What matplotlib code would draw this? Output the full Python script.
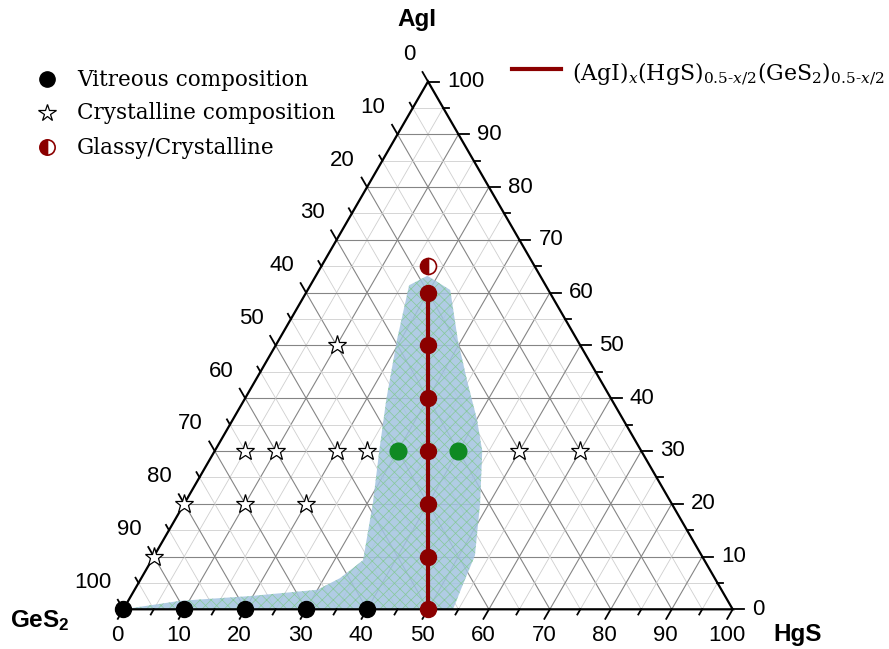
# Ternary diagram AgI - HgS - GeS2 (glass forming region)
import numpy as np
import matplotlib
matplotlib.use("Agg")
import matplotlib.pyplot as plt
from matplotlib.patches import Polygon

plt.rcParams["mathtext.fontset"] = "custom"
plt.rcParams["mathtext.rm"] = "DejaVu Serif"
plt.rcParams["mathtext.it"] = "DejaVu Serif:italic"
plt.rcParams["mathtext.bf"] = "Liberation Sans:bold"
plt.rcParams["hatch.linewidth"] = 0.5

# =========================
# data (mol %, AgI / HgS ; GeS2 = rest)
# =========================
TICKS = [0, 10, 20, 30, 40, 50, 60, 70, 80, 90, 100]

line_agi = [0, 60]
line_hgs = [50, 20]

series_agi = [0, 10, 20, 30, 40, 50, 60]
series_hgs = [50, 45, 40, 35, 30, 25, 20]

vitreous_agi = [0, 0, 0, 0, 0]
vitreous_hgs = [0, 10, 20, 30, 40]

green_agi = [30, 30]
green_hgs = [30, 40]

cryst_agi = [10, 20, 20, 20, 30, 30, 30, 30, 30, 30, 50]
cryst_hgs = [0, 0, 10, 20, 5, 10, 20, 25, 50, 60, 10]

mixed_agi = [65]
mixed_hgs = [17.5]

region_agi = [0, 1.6, 2.5, 3.7, 5.9, 9.3, 20.1, 30.0, 39.7, 51.0, 61.4, 63.2,
              60.5, 51.0, 43.4, 35.9, 30.0, 20.1, 10.2, 4.6, 0]
region_hgs = [0, 8.5, 19.5, 30.0, 32.6, 34.7, 30.9, 27.0, 23.3, 19.4, 16.2, 18.3,
              23.4, 29.4, 34.7, 40.1, 43.9, 48.5, 52.6, 53.4, 54.1]

DARKRED = "#8b0000"
GREEN = "#0f8a22"

# =========================
# layout
# =========================
W, H = 889, 649
S = 609.4              # px per unit side
X0, Y0 = 123.3, 609.3  # GeS2 vertex in px (from top-left)
R3 = np.sqrt(3) / 2


def px(d):
    return d / S


def tern(agi, hgs):
    a = np.asarray(agi, dtype=float) / 100.0
    h = np.asarray(hgs, dtype=float) / 100.0
    return h + a / 2, a * R3


fig = plt.figure(figsize=(W / 100, H / 100), dpi=100)
ax = fig.add_axes([0, 0, 1, 1])
ax.set_xlim(-X0 / S, (W - X0) / S)
ax.set_ylim(-(H - Y0) / S, Y0 / S)
ax.axis("off")

# grid: minor every 5, major every 10
for v in range(5, 100, 5):
    major = v % 10 == 0
    col = "#858585" if major else "#cfcfcf"
    lw = 0.8 if major else 0.6
    # constant AgI
    x, y = tern([v, v], [0, 100 - v])
    ax.plot(x, y, color=col, lw=lw, zorder=1)
    # constant HgS
    x, y = tern([0, 100 - v], [v, v])
    ax.plot(x, y, color=col, lw=lw, zorder=1)
    # constant GeS2
    x, y = tern([0, 100 - v], [100 - v, 0])
    ax.plot(x, y, color=col, lw=lw, zorder=1)

# glass forming region
rx, ry = tern(region_agi, region_hgs)
pts = np.column_stack([rx, ry])
ax.add_patch(Polygon(pts, closed=True, facecolor="#a2c4e0", edgecolor="none",
                     alpha=0.85, zorder=2))
ax.add_patch(Polygon(pts, closed=True, facecolor="none", edgecolor="#86c99a",
                     lw=0, hatch="xxx", zorder=2.1))

# triangle frame
fx, fy = tern([0, 0, 100, 0], [0, 100, 0, 0])
ax.plot(fx, fy, color="black", lw=1.6, zorder=5, solid_joinstyle="miter")

# ticks + labels
lab_font = dict(family="Liberation Sans", fontsize=16)
for v in range(0, 101, 5):
    L = px(11) if v % 10 == 0 else px(6)
    # bottom (HgS), ticks down-left
    bx, by = tern(0, v)
    ax.plot([bx, bx - 0.5 * L], [by, by - R3 * L], color="black", lw=1.3, zorder=5)
    # right (AgI), ticks to the right
    rxx, ryy = tern(v, 100 - v)
    ax.plot([rxx, rxx + L], [ryy, ryy], color="black", lw=1.3, zorder=5)
    # left (GeS2), ticks up-left
    lx, ly = tern(100 - v, 0)
    ax.plot([lx, lx - 0.5 * L], [ly, ly + R3 * L], color="black", lw=1.3, zorder=5)

for v in TICKS:
    bx, by = tern(0, v)
    ax.text(bx - px(6), by - px(26), str(v), ha="center", va="center", **lab_font)
    rxx, ryy = tern(v, 100 - v)
    ax.text(rxx + px(19), ryy, str(v), ha="left", va="center", **lab_font)
    lx, ly = tern(100 - v, 0)
    ax.text(lx - px(12), ly + px(27), str(v), ha="right", va="center", **lab_font)

title_font = dict(family="Liberation Sans", fontsize=17.5, fontweight="bold")
fig.text(417 / W, 1 - 26 / H, "AgI", ha="center", va="baseline", **title_font)
fig.text(773 / W, 1 - 641 / H, "HgS", ha="left", va="baseline", **title_font)
fig.text(10 / W, 1 - 627 / H, r"GeS$_\mathbf{2}$", ha="left", va="baseline", **title_font)

# composition line and points
lx_, ly_ = tern(line_agi, line_hgs)
ax.plot(lx_, ly_, color=DARKRED, lw=3, zorder=6)
sx, sy = tern(series_agi, series_hgs)
ax.plot(sx, sy, "o", ms=11.5, color=DARKRED, zorder=7)

vx, vy = tern(vitreous_agi, vitreous_hgs)
ax.plot(vx, vy, "o", ms=11.5, color="black", zorder=7)

gx, gy = tern(green_agi, green_hgs)
ax.plot(gx, gy, "o", ms=12, color=GREEN, zorder=7)

cx, cy = tern(cryst_agi, cryst_hgs)
ax.plot(cx, cy, "*", ms=14, mfc="white", mec="black", mew=0.9, zorder=7)

mx, my = tern(mixed_agi, mixed_hgs)
ax.plot(mx, my, "o", ms=11.5, fillstyle="left", mfc=DARKRED, mfcalt="white",
        mec=DARKRED, mew=1.2, zorder=7)

# legend (left)
leg_font = dict(family="DejaVu Serif", fontsize=15.5)
rows = [
    ("Vitreous composition", 79, 86, dict(marker="o", ms=11, color="black", ls="none")),
    ("Crystalline composition", 113, 119.5,
     dict(marker="*", ms=13, mfc="white", mec="black", mew=0.9, ls="none")),
    ("Glassy/Crystalline", 147, 154,
     dict(marker="o", ms=11, fillstyle="left", mfc=DARKRED, mfcalt="white",
          mec=DARKRED, mew=1.2, ls="none")),
]
for label, my_px, base_px, style in rows:
    fig.lines.append(plt.Line2D([47 / W], [1 - my_px / H], transform=fig.transFigure, **style))
    fig.text(77 / W, 1 - base_px / H, label, ha="left", va="baseline", **leg_font)

# legend (right)
fig.lines.append(plt.Line2D([512 / W, 561 / W], [1 - 68.5 / H, 1 - 68.5 / H],
                            transform=fig.transFigure, color=DARKRED, lw=3))
fig.text(572 / W, 1 - 80 / H,
         "(AgI)$_{x}$(HgS)$_{0.5\u2010x/2}$(GeS$_{2}$)$_{0.5\u2010x/2}$",
         ha="left", va="baseline", family="DejaVu Serif", fontsize=15.8)

fig.savefig("out.png", dpi=100)
